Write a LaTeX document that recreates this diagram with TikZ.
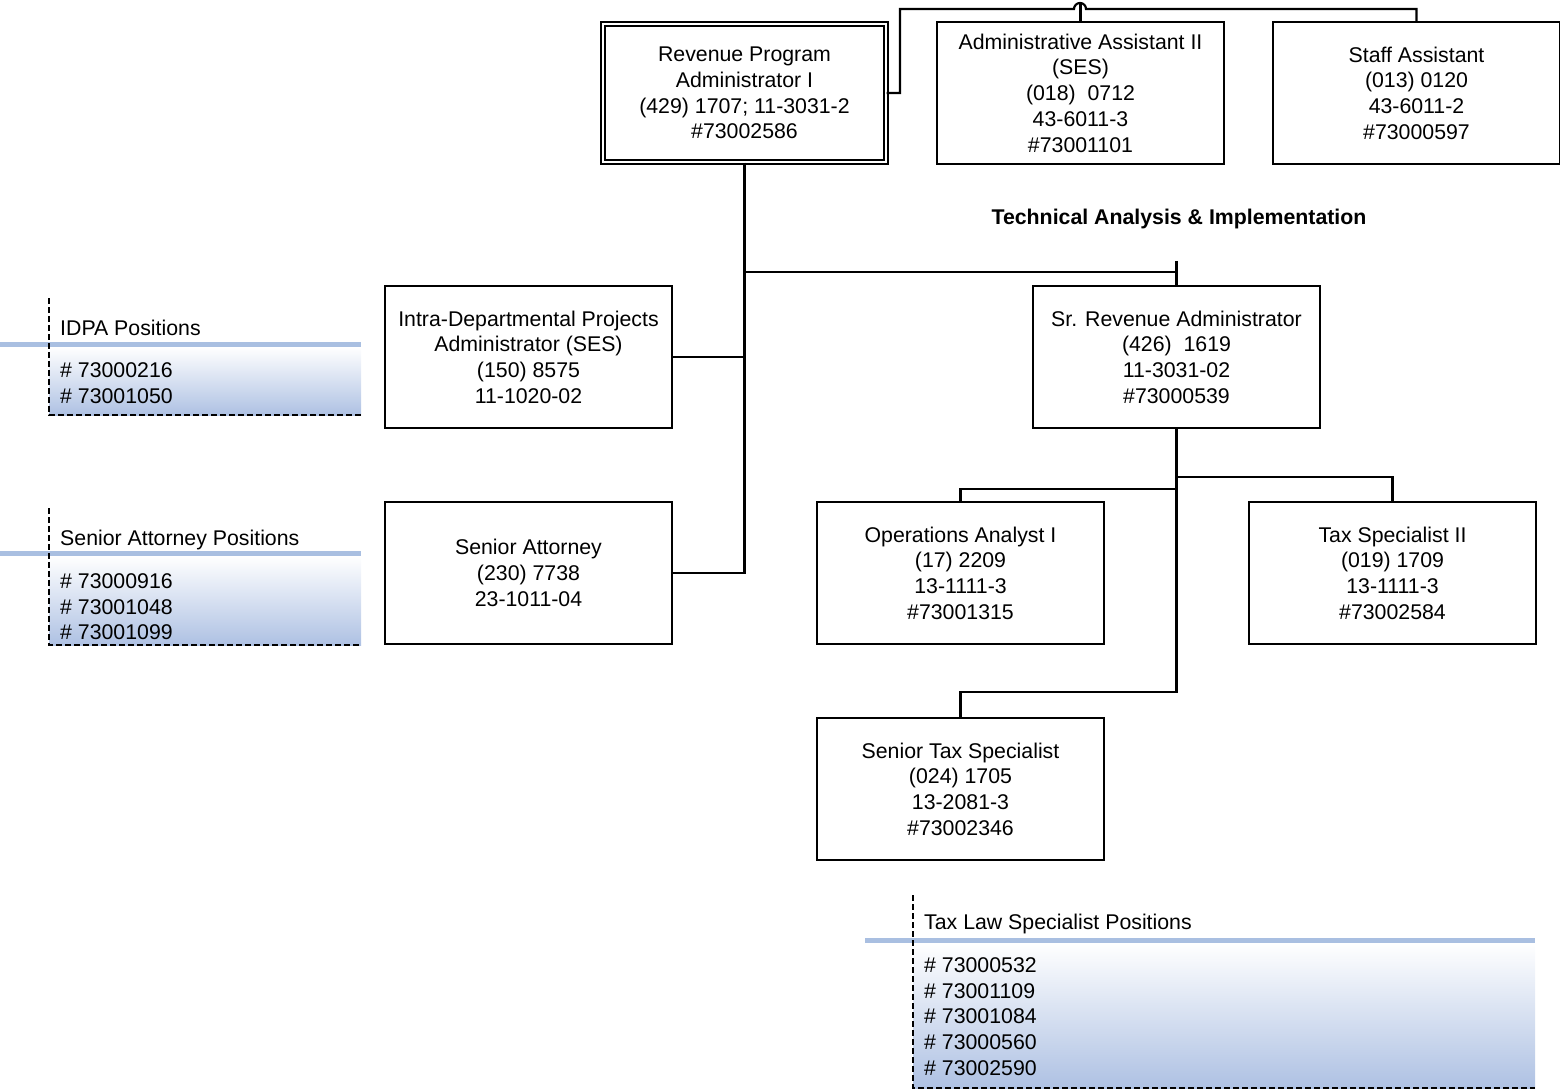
\documentclass[tikz,border=0pt]{standalone}
\usepackage{fontspec}
\setmainfont{Liberation Sans}
\usetikzlibrary{positioning}
\definecolor{barblue}{HTML}{A9BFE1}
\definecolor{shadeblue}{HTML}{AEC1E3}

\begin{document}
\begin{tikzpicture}[x=1pt, y=-1pt, font=\fontsize{21.3}{25.7}\selectfont,
  postbox/.style={draw, line width=1.8pt, minimum width=287pt, minimum height=142pt, align=center, inner sep=0pt},
  link/.style={line width=2.2pt},
  edge line/.style={line width=1.3pt, dash pattern=on 6pt off 3pt},
  listtext/.style={anchor=north west, align=left, inner sep=0pt}]
\useasboundingbox (0,0) rectangle (1560,1091);

% top row
\node[postbox, double, line width=1.4pt, double distance=2.8pt, minimum width=283pt, minimum height=138pt] (rpa) at (744.5,93) {Revenue Program\\Administrator I\\(429) 1707; 11-3031-2\\\#73002586};
\node[postbox] (aa) at (1080.5,93) {Administrative Assistant II\\(SES)\\(018)\ \ 0712\\43-6011-3\\\#73001101};
\node[postbox] (sta) at (1416.5,93) {Staff Assistant\\(013) 0120\\43-6011-2\\\#73000597};

\node[font=\fontsize{21.3}{25.7}\selectfont\bfseries] (tai) at (1179,219) {Technical Analysis \& Implementation};

% middle rows
\node[postbox] (idp) at (528.5,357) {Intra-Departmental Projects\\Administrator (SES)\\(150) 8575\\11-1020-02};
\node[postbox] (sra) at (1176.5,357) {Sr. Revenue Administrator\\(426)\ \ 1619\\11-3031-02\\\#73000539};
\node[postbox] (sat) at (528.5,573) {Senior Attorney\\(230) 7738\\23-1011-04};
\node[postbox] (opa) at (960.5,573) {Operations Analyst I\\(17) 2209\\13-1111-3\\\#73001315};
\node[postbox] (tsp) at (1392.5,573) {Tax Specialist II\\(019) 1709\\13-1111-3\\\#73002584};
\node[postbox] (sts) at (960.5,789) {Senior Tax Specialist\\(024) 1705\\13-2081-3\\\#73002346};

% connectors
\draw[link] (rpa.east) -- (900,93) -- (900,9) -- (1074,9) arc (180:360:6) -- (sta.north |- 0,9) -- (sta.north);
\draw[link] (aa.north) -- (aa.north |- 0,3);
\draw[link] (rpa.south) -- (rpa.south |- sat.east) -- (sat.east);
\draw[link] (idp.east) -- (idp.east -| rpa.south);
\draw[link] (rpa.south |- 0,272) -- (sra.north |- 0,272);
\draw[link] (sra.north |- 0,261) -- (sra.north);
\draw[link] (sra.south) -- (sra.south |- 0,692) -- (sts.north |- 0,692) -- (sts.north);
\draw[link] (sra.south |- 0,489) -- (opa.north |- 0,489) -- (opa.north);
\draw[link] (sra.south |- 0,477) -- (tsp.north |- 0,477) -- (tsp.north);

% IDPA positions
\shade[top color=white, bottom color=shadeblue] (49,347) rectangle (361,415);
\draw[barblue, line width=5pt] (0,344) -- (361,344);
\draw[edge line] (49,298) -- (49,415) -- (361,415);
\node[anchor=base west, inner sep=0pt] (idpat) at (60,335.5) {IDPA Positions};
\node[listtext] (idpal) at (60,362.4) {\# 73000216\\\# 73001050};

% Senior Attorney positions
\shade[top color=white, bottom color=shadeblue] (49,556) rectangle (361,645);
\draw[barblue, line width=5pt] (0,553) -- (361,553);
\draw[edge line] (49,508) -- (49,645) -- (361,645);
\node[anchor=base west, inner sep=0pt] (satt) at (60,545.5) {Senior Attorney Positions};
\node[listtext] (satl) at (60,573.4) {\# 73000916\\\# 73001048\\\# 73001099};

% Tax Law Specialist positions
\shade[top color=white, bottom color=shadeblue] (913,943) rectangle (1535,1088);
\draw[barblue, line width=5pt] (865,940) -- (1535,940);
\draw[edge line] (913,895) -- (913,1088) -- (1535,1088);
\node[anchor=base west, inner sep=0pt] (tlst) at (924,929.5) {Tax Law Specialist Positions};
\node[listtext] (tlsl) at (924,957.4) {\# 73000532\\\# 73001109\\\# 73001084\\\# 73000560\\\# 73002590};
\end{tikzpicture}
\end{document}
